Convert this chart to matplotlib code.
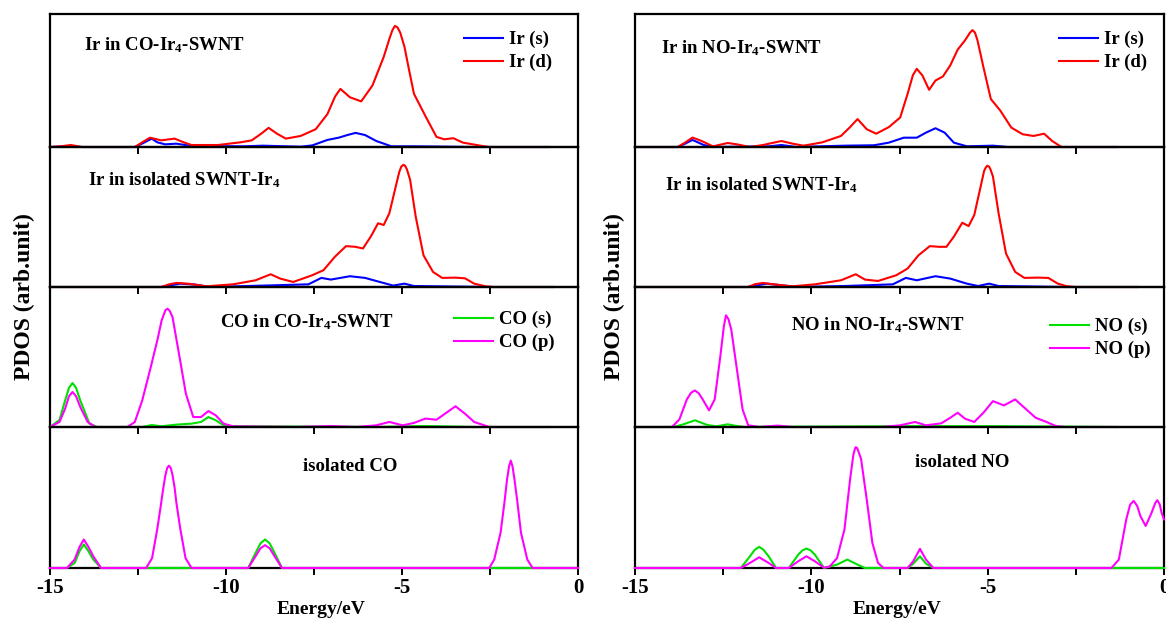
import matplotlib
matplotlib.use('Agg')
import matplotlib.pyplot as plt
from matplotlib.ticker import MultipleLocator

plt.rcParams['font.family'] = ['Liberation Serif', 'DejaVu Serif']
plt.rcParams['font.weight'] = 'bold'
plt.rcParams['mathtext.fontset'] = 'custom'
plt.rcParams['mathtext.rm'] = 'Liberation Serif:bold'
plt.rcParams['mathtext.it'] = 'Liberation Serif:bold'
plt.rcParams['mathtext.bf'] = 'Liberation Serif:bold'
plt.rcParams['axes.unicode_minus'] = False

# ---- data: (energy eV, PDOS as fraction of panel height) ----
# left column, panel 1: Ir in CO-Ir4-SWNT
co_ir_s = [(-15, 0), (-14.7, 0.003), (-14.41, 0.008), (-14.1, 0), (-12.59, 0), (-12.35, 0.03),
           (-12.11, 0.063), (-11.95, 0.035), (-11.73, 0.02), (-11.41, 0.025), (-10.98, 0.008),
           (-9.5, 0.005), (-8.95, 0.01), (-7.88, 0.002), (-7.55, 0.012), (-7.12, 0.053),
           (-6.80, 0.07), (-6.55, 0.09), (-6.32, 0.106), (-6.05, 0.09), (-5.73, 0.045),
           (-5.30, 0.005), (-4.6, 0.005), (-2.9, 0), (-0.83, 0)]
co_ir_d = [(-15, 0), (-14.7, 0.005), (-14.41, 0.015), (-14.1, 0), (-12.59, 0), (-12.35, 0.04),
           (-12.16, 0.07), (-11.84, 0.05), (-11.46, 0.063), (-11.2, 0.035), (-10.98, 0.015),
           (-10.23, 0.015), (-9.59, 0.035), (-9.27, 0.05), (-9.0, 0.1), (-8.79, 0.144),
           (-8.55, 0.10), (-8.30, 0.063), (-7.88, 0.083), (-7.45, 0.134), (-7.12, 0.247),
           (-6.9, 0.38), (-6.75, 0.437), (-6.48, 0.374), (-6.16, 0.343), (-5.84, 0.462),
           (-5.52, 0.677), (-5.35, 0.82), (-5.27, 0.88), (-5.20, 0.91), (-5.13, 0.90),
           (-5.05, 0.86), (-4.93, 0.753), (-4.80, 0.58), (-4.66, 0.40), (-4.34, 0.235),
           (-4.02, 0.076), (-3.80, 0.058), (-3.54, 0.066), (-3.27, 0.033), (-2.73, 0.008),
           (-2.52, 0), (-0.83, 0)]

# left column, panel 2: Ir in isolated SWNT-Ir4
iso_ir_s_l = [(-15, 0), (-11.84, 0), (-11.30, 0.024), (-10.87, 0.017), (-10.45, 0), (-8.95, 0.01),
              (-7.66, 0.019), (-7.29, 0.065), (-7.02, 0.053), (-6.48, 0.077), (-6.05, 0.065),
              (-5.63, 0.036), (-5.25, 0.01), (-4.93, 0.024), (-4.66, 0.007), (-2.52, 0), (-0.70, 0)]
iso_ir_d_l = [(-15, 0), (-11.84, 0), (-11.6, 0.02), (-11.41, 0.029), (-11.09, 0.024), (-10.55, 0.005),
              (-9.80, 0.019), (-9.16, 0.048), (-8.73, 0.091), (-8.46, 0.06), (-8.09, 0.036),
              (-7.55, 0.084), (-7.23, 0.12), (-6.91, 0.215), (-6.59, 0.292), (-6.32, 0.287),
              (-6.11, 0.275), (-5.89, 0.359), (-5.68, 0.455), (-5.52, 0.443), (-5.36, 0.526),
              (-5.20, 0.694), (-5.08, 0.82), (-5.02, 0.86), (-4.96, 0.873), (-4.91, 0.865),
              (-4.86, 0.84), (-4.77, 0.766), (-4.61, 0.502), (-4.39, 0.227), (-4.12, 0.108),
              (-3.86, 0.065), (-3.48, 0.067), (-3.21, 0.062), (-2.95, 0.024), (-2.63, 0.005),
              (-2.4, 0), (-0.70, 0)]

# left column, panel 3: CO in CO-Ir4-SWNT
co_s = [(-15, 0), (-14.73, 0.05), (-14.57, 0.19), (-14.46, 0.28), (-14.36, 0.314), (-14.26, 0.28),
        (-14.14, 0.19), (-13.88, 0.024), (-13.66, 0), (-12.38, 0), (-12.11, 0.014), (-11.84, 0.005),
        (-11.41, 0.017), (-10.98, 0.024), (-10.71, 0.036), (-10.50, 0.071), (-10.29, 0.048),
        (-10.02, 0.005), (-5.73, 0), (-4.34, 0.007), (-2.95, 0), (-0.83, 0)]
co_p = [(-15, 0), (-14.73, 0.036), (-14.57, 0.131), (-14.46, 0.22), (-14.36, 0.25), (-14.26, 0.22),
        (-14.14, 0.143), (-13.93, 0.036), (-13.71, 0), (-12.80, 0), (-12.59, 0.036), (-12.38, 0.19),
        (-12.16, 0.405), (-11.95, 0.62), (-11.83, 0.76), (-11.72, 0.835), (-11.66, 0.845),
        (-11.60, 0.83), (-11.52, 0.786), (-11.32, 0.50), (-11.14, 0.238), (-10.93, 0.071),
        (-10.71, 0.071), (-10.50, 0.114), (-10.29, 0.083), (-10.07, 0.024), (-9.80, 0.005),
        (-8.0, 0), (-7.02, 0.007), (-6.3, 0), (-5.73, 0.012), (-5.36, 0.036), (-4.98, 0.012),
        (-4.66, 0.029), (-4.34, 0.06), (-4.02, 0.052), (-3.75, 0.1), (-3.48, 0.148),
        (-3.21, 0.095), (-2.95, 0.036), (-2.52, 0), (-0.83, 0)]

# left column, panel 4: isolated CO
iso_co_s = [(-15, 0), (-14.52, 0), (-14.30, 0.036), (-14.16, 0.12), (-14.04, 0.167), (-13.91, 0.12),
            (-13.77, 0.06), (-13.55, 0), (-9.37, 0), (-9.16, 0.107), (-9.02, 0.175), (-8.89, 0.202),
            (-8.76, 0.175), (-8.62, 0.107), (-8.41, 0), (0, 0)]
iso_co_p = [(-15, 0), (-14.52, 0), (-14.30, 0.06), (-14.16, 0.15), (-14.04, 0.202), (-13.91, 0.15),
            (-13.77, 0.083), (-13.55, 0), (-12.27, 0), (-12.10, 0.07), (-11.95, 0.28),
            (-11.84, 0.464), (-11.78, 0.57), (-11.72, 0.66), (-11.67, 0.71), (-11.62, 0.726),
            (-11.57, 0.71), (-11.52, 0.66), (-11.46, 0.57), (-11.41, 0.464), (-11.30, 0.28),
            (-11.15, 0.07), (-10.98, 0), (-9.37, 0), (-9.16, 0.083), (-9.02, 0.14), (-8.89, 0.162),
            (-8.76, 0.14), (-8.62, 0.083), (-8.41, 0), (-2.52, 0), (-2.38, 0.06), (-2.20, 0.25),
            (-2.09, 0.464), (-2.02, 0.62), (-1.96, 0.72), (-1.91, 0.762), (-1.86, 0.72),
            (-1.80, 0.62), (-1.72, 0.464), (-1.62, 0.25), (-1.44, 0.06), (-1.29, 0), (0, 0)]

# right column, panel 1: Ir in NO-Ir4-SWNT
no_ir_s = [(-15, 0), (-13.79, 0), (-13.58, 0.025), (-13.37, 0.053), (-13.05, 0.015), (-12.79, 0),
           (-11.2, 0.005), (-10.85, 0.015), (-10.43, 0), (-9.06, 0.01), (-8.22, 0.013),
           (-7.80, 0.033), (-7.38, 0.07), (-7.01, 0.07), (-6.75, 0.108), (-6.48, 0.141),
           (-6.22, 0.108), (-5.96, 0.033), (-5.59, 0.005), (-4.85, 0.01), (-4.43, 0), (-1.33, 0)]
no_ir_d = [(-15, 0), (-13.79, 0), (-13.58, 0.033), (-13.37, 0.071), (-13.11, 0.045), (-12.79, 0.005),
           (-12.37, 0.03), (-12.11, 0.02), (-11.74, 0), (-11.37, 0.015), (-10.85, 0.045),
           (-10.53, 0.025), (-10.22, 0.01), (-9.69, 0.035), (-9.16, 0.083), (-8.9, 0.15),
           (-8.69, 0.21), (-8.43, 0.134), (-8.16, 0.10), (-7.80, 0.15), (-7.48, 0.222),
           (-7.27, 0.40), (-7.12, 0.54), (-7.01, 0.588), (-6.85, 0.538), (-6.66, 0.43),
           (-6.48, 0.50), (-6.27, 0.53), (-6.06, 0.614), (-5.85, 0.732), (-5.64, 0.803),
           (-5.50, 0.86), (-5.43, 0.879), (-5.36, 0.86), (-5.29, 0.803), (-5.12, 0.60),
           (-4.91, 0.361), (-4.64, 0.273), (-4.33, 0.146), (-4.01, 0.096), (-3.70, 0.083),
           (-3.40, 0.10), (-3.17, 0.045), (-2.91, 0), (-1.33, 0)]

# right column, panel 2: Ir in isolated SWNT-Ir4
iso_ir_s_r = [(-15, 0), (-11.79, 0), (-11.27, 0.024), (-10.85, 0.012), (-10.43, 0), (-9.06, 0.007),
              (-7.69, 0.019), (-7.32, 0.065), (-7.01, 0.048), (-6.48, 0.077), (-6.06, 0.06),
              (-5.59, 0.024), (-5.27, 0.007), (-4.96, 0.024), (-4.69, 0.007), (-2.75, 0), (-0.75, 0)]
iso_ir_d_r = [(-15, 0), (-11.79, 0), (-11.6, 0.02), (-11.37, 0.029), (-11.06, 0.019), (-10.53, 0.005),
              (-9.90, 0.019), (-9.16, 0.048), (-8.74, 0.091), (-8.48, 0.053), (-8.11, 0.043),
              (-7.59, 0.084), (-7.27, 0.132), (-6.96, 0.227), (-6.64, 0.292), (-6.38, 0.287),
              (-6.17, 0.287), (-5.96, 0.359), (-5.72, 0.459), (-5.54, 0.435), (-5.38, 0.514),
              (-5.22, 0.694), (-5.1, 0.83), (-5.05, 0.855), (-5.01, 0.866), (-4.96, 0.86),
              (-4.92, 0.84), (-4.85, 0.789), (-4.69, 0.526), (-4.48, 0.239), (-4.22, 0.108),
              (-3.96, 0.065), (-3.59, 0.067), (-3.28, 0.065), (-3.01, 0.024), (-2.75, 0.005),
              (-2.5, 0), (-0.75, 0)]

# right column, panel 3: NO in NO-Ir4-SWNT
no_s = [(-15, 0), (-13.9, 0), (-13.63, 0.019), (-13.30, 0.048), (-12.95, 0.014), (-12.69, 0.005),
        (-12.37, 0.019), (-12.11, 0.007), (-11.9, 0), (-7.06, 0.006), (-4.85, 0.006), (-1.33, 0)]
no_p = [(-15, 0), (-13.95, 0), (-13.74, 0.055), (-13.53, 0.197), (-13.41, 0.245), (-13.30, 0.261),
        (-13.19, 0.24), (-13.08, 0.197), (-12.90, 0.119), (-12.74, 0.197), (-12.58, 0.506),
        (-12.48, 0.72), (-12.42, 0.798), (-12.35, 0.77), (-12.27, 0.696), (-12.11, 0.411),
        (-11.95, 0.126), (-11.79, 0.012), (-11.47, 0), (-10.95, 0.01), (-10.53, 0), (-8.01, 0),
        (-7.48, 0.012), (-7.06, 0.036), (-6.75, 0.012), (-6.32, 0.026), (-6.06, 0.066),
        (-5.85, 0.102), (-5.64, 0.059), (-5.38, 0.036), (-5.12, 0.102), (-4.85, 0.185),
        (-4.54, 0.154), (-4.22, 0.197), (-3.96, 0.138), (-3.64, 0.066), (-3.33, 0.036),
        (-3.07, 0.007), (-2.8, 0), (-1.33, 0)]

# right column, panel 4: isolated NO
iso_no_s = [(-15, 0), (-12.0, 0), (-11.74, 0.083), (-11.60, 0.13), (-11.48, 0.15), (-11.36, 0.13),
            (-11.21, 0.083), (-11.0, 0), (-10.64, 0), (-10.37, 0.095), (-10.25, 0.125),
            (-10.14, 0.138), (-10.02, 0.125), (-9.90, 0.095), (-9.64, 0), (-9.27, 0.024),
            (-8.98, 0.06), (-8.69, 0.024), (-8.48, 0), (-7.27, 0), (-7.11, 0.031), (-6.92, 0.083),
            (-6.75, 0.031), (-6.54, 0), (0, 0)]
iso_no_p = [(-15, 0), (-12.0, 0), (-11.74, 0.036), (-11.48, 0.076), (-11.21, 0.036), (-11.0, 0),
            (-10.64, 0), (-10.37, 0.048), (-10.14, 0.083), (-9.90, 0.048), (-9.64, 0.002),
            (-9.48, 0.01), (-9.27, 0.071), (-9.06, 0.274), (-8.90, 0.631), (-8.81, 0.8),
            (-8.77, 0.84), (-8.74, 0.857), (-8.70, 0.85), (-8.67, 0.83), (-8.59, 0.774),
            (-8.43, 0.488), (-8.27, 0.179), (-8.11, 0.036), (-7.95, 0), (-7.27, 0), (-7.11, 0.048),
            (-6.92, 0.136), (-6.75, 0.06), (-6.54, 0), (-1.49, 0), (-1.28, 0.06), (-1.07, 0.345),
            (-0.96, 0.45), (-0.86, 0.476), (-0.76, 0.44), (-0.67, 0.369), (-0.52, 0.298),
            (-0.35, 0.393), (-0.25, 0.46), (-0.19, 0.481), (-0.12, 0.45), (-0.07, 0.393), (0, 0.345)]

ir_labels = ['Ir (s)', 'Ir (d)']
co_labels = ['CO (s)', 'CO (p)']
no_labels = ['NO (s)', 'NO (p)']

W, H = 1166, 619
fig = plt.figure(figsize=(W / 100, H / 100), dpi=100)

def px(x, y):
    return x / W, 1 - y / H

# panel rows in pixels (top, bottom)
rows = [(14, 147), (147, 287), (287, 427), (427, 568)]
cols = [(50, 578), (635, 1164)]

panels = [
    # column 0
    [(co_ir_s, co_ir_d, 'blue', 'red', ir_labels, 'Ir in CO-Ir$_4$-SWNT', (84, 50), (464, 31)),
     (iso_ir_s_l, iso_ir_d_l, 'blue', 'red', None, 'Ir in isolated SWNT-Ir$_4$', (88, 185), None),
     (co_s, co_p, '#00e000', 'magenta', co_labels, 'CO in CO-Ir$_4$-SWNT', (220, 327), (454, 311)),
     (iso_co_s, iso_co_p, '#00e000', 'magenta', None, 'isolated CO', (303, 471), None)],
    # column 1
    [(no_ir_s, no_ir_d, 'blue', 'red', ir_labels, 'Ir in NO-Ir$_4$-SWNT', (661, 53), (1059, 31)),
     (iso_ir_s_r, iso_ir_d_r, 'blue', 'red', None, 'Ir in isolated SWNT-Ir$_4$', (665, 190), None),
     (no_s, no_p, '#00e000', 'magenta', no_labels, 'NO in NO-Ir$_4$-SWNT', (791, 330), (1050, 318)),
     (iso_no_s, iso_no_p, '#00e000', 'magenta', None, 'isolated NO', (915, 467), None)],
]

fs = 13.5
for c, (x0, x1) in enumerate(cols):
    for r, (y0, y1) in enumerate(rows):
        s_pts, p_pts, c1, c2, labels, title, tpos, lpos = panels[c][r]
        ax = fig.add_axes([x0 / W, 1 - y1 / H, (x1 - x0) / W, (y1 - y0) / H])
        ax.patch.set_visible(False)
        e1, v1 = zip(*s_pts)
        e2, v2 = zip(*p_pts)
        l1, = ax.plot(e1, v1, color=c1, lw=1.5, zorder=3, clip_on=False,
                      solid_joinstyle='round')
        l2, = ax.plot(e2, v2, color=c2, lw=1.5, zorder=3, clip_on=False,
                      solid_joinstyle='round')
        ax.set_xlim(-15, 0)
        ax.set_ylim(0, 1)
        ax.set_yticks([])
        ax.xaxis.set_major_locator(MultipleLocator(5))
        ax.xaxis.set_minor_locator(MultipleLocator(2.5))
        ax.tick_params(axis='x', which='both', direction='out', length=5, width=1.4,
                       top=False, labelsize=15, pad=2)
        if r < 3:
            ax.tick_params(axis='x', labelbottom=False)
        for sp in ax.spines.values():
            sp.set_linewidth(1.6)
        tx, ty = px(*tpos)
        fig.text(tx, ty, title, fontsize=fs, fontweight='bold', ha='left', va='baseline')
        if labels is not None:
            lx, ly = px(*lpos)
            ax.legend([l1, l2], labels, loc='upper left', bbox_to_anchor=(lx, ly),
                      bbox_transform=fig.transFigure, frameon=False, fontsize=fs,
                      handlelength=2.1, handletextpad=0.3, labelspacing=0.3,
                      borderpad=0, borderaxespad=0)

for xl in (24, 614):
    fig.text(*px(xl, 297), 'PDOS (arb.unit)', rotation=90, fontsize=17, fontweight='bold',
             ha='center', va='center')
for xc in (321, 897):
    fig.text(*px(xc, 601), 'Energy/eV', fontsize=14, fontweight='bold', ha='center', va='top')

fig.savefig('out.png', dpi=100)
